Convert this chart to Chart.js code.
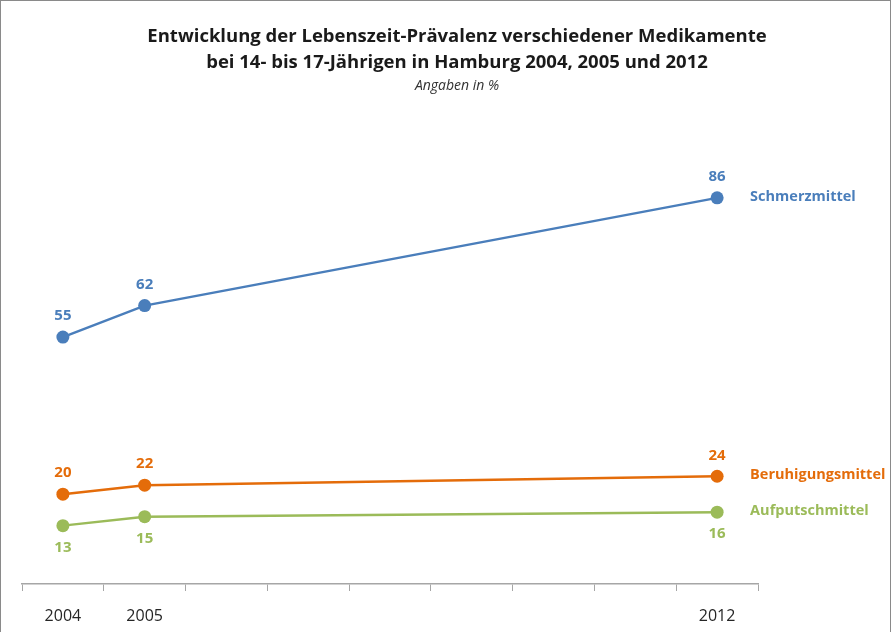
<!DOCTYPE html>
<html lang="de">
<head>
<meta charset="utf-8">
<title>Lebenszeit-Prävalenz Medikamente</title>
<script src="https://cdn.jsdelivr.net/npm/chart.js@4/dist/chart.umd.min.js"></script>
<style>
  html, body { margin: 0; padding: 0; background: #fff; }
  .frame { width: 891px; height: 632px; box-sizing: border-box; border: 1px solid #8a8a8a; border-bottom: none; }
  .frame canvas { display: block; }
</style>
</head>
<body>
<div class="frame">
  <canvas id="chart" width="889" height="631"></canvas>
</div>
<script>
// Jahre als Kategorien, Lücken 2006-2011 werden durch die Linie überbrückt
const years = ['2004', '2005', '2006', '2007', '2008', '2009', '2010', '2011', '2012'];
const shownYears = ['2004', '2005', '2012'];

const schmerzmittel = [55, 62, null, null, null, null, null, null, 86];
const beruhigungsmittel = [20, 22, null, null, null, null, null, null, 24];
const aufputschmittel = [13, 15, null, null, null, null, null, null, 16];

const seriesNames = ['Schmerzmittel', 'Beruhigungsmittel', 'Aufputschmittel'];
const seriesColors = ['#4a7ebb', '#e46c0a', '#9bbb59'];
const labelBelow = [false, false, true];

const titleLines = ['Entwicklung der Lebenszeit-Prävalenz verschiedener Medikamente',
                    'bei 14- bis 17-Jährigen in Hamburg 2004, 2005 und 2012'];
const subtitleText = 'Angaben in %';

const FONT = "'Open Sans', 'Noto Sans', sans-serif";

// Überschrift, etwas rechts der Mitte gesetzt
const headline = {
    id: 'headline',
    afterDraw(chart) {
        const ctx = chart.ctx;
        const cx = 456;
        ctx.save();
        ctx.textAlign = 'center';
        ctx.textBaseline = 'middle';
        ctx.fillStyle = '#1a1a1a';
        ctx.font = `bold 18.5px ${FONT}`;
        ctx.fillText(titleLines[0], cx, 36);
        ctx.fillText(titleLines[1], cx, 62);
        ctx.fillStyle = '#333';
        ctx.font = `italic 14px ${FONT}`;
        ctx.fillText(subtitleText, cx, 85);
        ctx.restore();
    }
};

// Werte an den Punkten und Reihennamen rechts neben dem letzten Punkt
const pointLabels = {
    id: 'pointLabels',
    afterDatasetsDraw(chart) {
        const ctx = chart.ctx;
        ctx.save();
        chart.data.datasets.forEach((ds, i) => {
            const meta = chart.getDatasetMeta(i);
            let last = null;
            meta.data.forEach((pt, j) => {
                const v = ds.data[j];
                if (v === null) return;
                last = pt;
                ctx.fillStyle = seriesColors[i];
                ctx.font = `bold 15px ${FONT}`;
                ctx.textAlign = 'center';
                ctx.textBaseline = 'middle';
                const dy = labelBelow[i] ? 22 : -21;
                ctx.fillText(String(v), pt.x, pt.y + dy);
            });
            if (last) {
                ctx.font = `bold 14.5px ${FONT}`;
                ctx.textAlign = 'left';
                ctx.textBaseline = 'middle';
                ctx.fillText(seriesNames[i], last.x + 33, last.y - 1);
            }
        });
        ctx.restore();
    }
};

function makeDataset(name, data, color) {
    return {
        label: name,
        data: data,
        borderColor: color,
        backgroundColor: color,
        borderWidth: 2.5,
        pointRadius: 6.5,
        pointHoverRadius: 6.5,
        pointBorderWidth: 0,
        spanGaps: true,
        tension: 0
    };
}

new Chart(document.getElementById('chart'), {
    type: 'line',
    data: {
        labels: years,
        datasets: [
            makeDataset(seriesNames[0], schmerzmittel, seriesColors[0]),
            makeDataset(seriesNames[1], beruhigungsmittel, seriesColors[1]),
            makeDataset(seriesNames[2], aufputschmittel, seriesColors[2])
        ]
    },
    options: {
        responsive: false,
        animation: false,
        layout: { padding: { left: 21, right: 132, top: 134, bottom: 0 } },
        plugins: {
            legend: { display: false },
            tooltip: { enabled: false },
            title: { display: false }
        },
        scales: {
            x: {
                offset: true,
                afterFit(scale) { scale.height = 48; },
                grid: {
                    offset: true,
                    drawOnChartArea: false,
                    drawTicks: true,
                    tickLength: 7,
                    color: '#a6a6a6'
                },
                border: { color: '#a6a6a6', width: 1.5 },
                ticks: {
                    autoSkip: false,
                    maxRotation: 0,
                    color: '#262626',
                    font: { family: FONT, size: 16 },
                    padding: 16,
                    callback: function (value) {
                        const lbl = this.getLabelForValue(value);
                        return shownYears.includes(lbl) ? lbl : '';
                    }
                }
            },
            y: {
                display: false,
                min: 0,
                max: 100
            }
        }
    },
    plugins: [pointLabels, headline]
});
</script>
</body>
</html>
